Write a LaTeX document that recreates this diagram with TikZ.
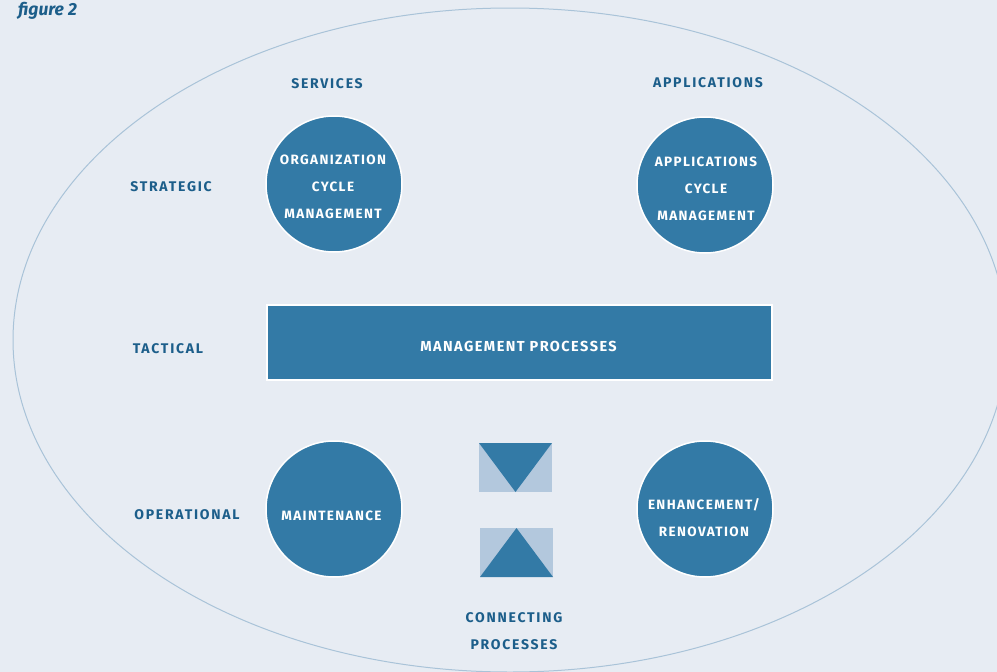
\documentclass[tikz,border=0pt]{standalone}
\usepackage{fontspec}
\setmainfont{Fira Sans}
\newfontfamily\lblfont[LetterSpace=12.5]{Fira Sans Bold}
\newfontfamily\bubfont[LetterSpace=10]{Fira Sans Bold}
\newfontfamily\figfont{Fira Sans}
\definecolor{bg}{HTML}{E7ECF3}
\definecolor{blobfill}{HTML}{337AA6}
\definecolor{lbl}{HTML}{1C5E8A}
\definecolor{edge}{HTML}{A9C3D8}
\definecolor{lightbox}{HTML}{B3C8DD}
\tikzset{
  bubble/.style={circle, draw=white, line width=1.5pt, fill=blobfill, minimum size=136pt, inner sep=0pt},
  bubbletext/.style={text=white, align=center, inner sep=0pt, font=\bubfont\fontsize{13.5}{27}\selectfont},
  bigbox/.style={rectangle, draw=white, line width=1.5pt, fill=blobfill, minimum width=505pt, minimum height=75pt},
  rowlabel/.style={text=lbl, font=\lblfont\fontsize{14}{27}\selectfont, align=center, inner sep=0pt},
}
\begin{document}
\begin{tikzpicture}[x=1pt,y=-1pt]
\fill[bg] (0,0) rectangle (997,672);
\useasboundingbox (0,0) rectangle (997,672);
\begin{scope}
\clip (0,0) rectangle (997,672);
\draw[edge, line width=1pt] (510,340) ellipse [x radius=497, y radius=332];
\end{scope}
\node[anchor=west, inner sep=0pt, text=lbl, font=\figfont\itshape\bfseries\fontsize{17.5}{20}\selectfont] (fig) at (18,11) {figure 2};
\node[rowlabel] (services) at (327,84) {SERVICES};
\node[rowlabel] (apps) at (708,83) {APPLICATIONS};
\node[rowlabel] (strategic) at (171,187) {STRATEGIC};
\node[rowlabel] (tactical) at (168,349) {TACTICAL};
\node[rowlabel] (operational) at (187,515) {OPERATIONAL};
\node[rowlabel] (connecting) at (514,631.5) {CONNECTING\\PROCESSES};
\node[bubble] (org) at (334,184) {};
\node[bubble] (appc) at (705,185) {};
\node[bubble] (maint) at (334,509) {};
\node[bubble] (enh) at (705,509) {};
\node[bubbletext] (orgt) at (333,187) {ORGANIZATION\\CYCLE\\MANAGEMENT};
\node[bubbletext] (appct) at (706,188.5) {APPLICATIONS\\CYCLE\\MANAGEMENT};
\node[bubbletext] (maintt) at (331.5,515.5) {MAINTENANCE};
\node[bubbletext] (enht) at (704,517.5) {ENHANCEMENT/\\RENOVATION};
\node[bigbox] (mgmt) at (519.5,342.5) {};
\node[bubbletext, font=\bubfont\fontsize{14.5}{27}\selectfont] (mgmtt) at (518.5,346) {MANAGEMENT PROCESSES};
% connecting process symbols
\fill[lightbox] (479,443) rectangle (552,492);
\fill[blobfill] (479,443) -- (552,443) -- (515.5,492) -- cycle;
\fill[lightbox] (480,528) rectangle (553,577);
\fill[blobfill] (480,577) -- (553,577) -- (516.5,528) -- cycle;
\end{tikzpicture}
\end{document}
